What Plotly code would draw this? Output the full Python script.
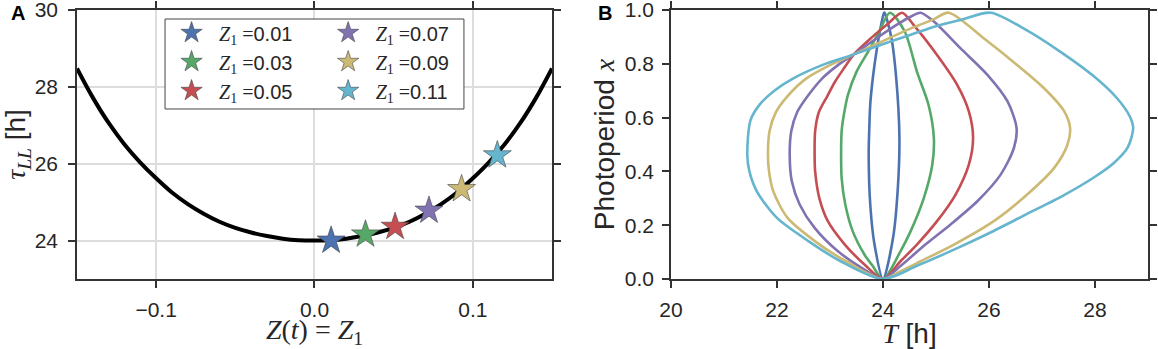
import plotly.graph_objects as go

# ---------------- data ----------------
z1_labels = ["0.01", "0.03", "0.05", "0.07", "0.09", "0.11"]
colors = ["#4C72B0", "#55A868", "#C44E52", "#8172B2", "#CCB974", "#64B5CD"]

# Panel A: tau_LL versus Z
curve_Z = [-0.15, -0.14, -0.13, -0.12, -0.11, -0.10, -0.09, -0.08, -0.07, -0.06, -0.05,
           -0.04, -0.03, -0.02, -0.01, 0.00, 0.01, 0.02, 0.03, 0.04, 0.05, 0.06, 0.07,
           0.08, 0.09, 0.10, 0.11, 0.12, 0.13, 0.14, 0.15]
curve_tau = [28.48, 27.72, 27.06, 26.50, 26.03, 25.62, 25.25, 24.95, 24.70, 24.49, 24.33,
             24.21, 24.12, 24.05, 24.01, 24.00, 24.01, 24.05, 24.12, 24.21, 24.33, 24.49, 24.70,
             24.95, 25.25, 25.62, 26.03, 26.50, 27.06, 27.72, 28.48]
star_Z = [0.0105, 0.0322, 0.0509, 0.0723, 0.0929, 0.1155]
star_tau = [24.00, 24.16, 24.36, 24.78, 25.34, 26.22]

# Panel B: entrainment regions (T [h], photoperiod x)
T_z01 = [24.00, 23.84, 23.76, 23.73, 23.74, 23.76, 23.81, 23.88, 23.95, 24.02,
         24.03, 24.16, 24.25, 24.31, 24.28, 24.19, 24.00]
x_z01 = [0.000, 0.128, 0.276, 0.460, 0.550, 0.650, 0.750, 0.850, 0.930, 0.990,
         0.990, 0.895, 0.746, 0.524, 0.338, 0.153, 0.000]

T_z03 = [24.00, 23.80, 23.65, 23.43, 23.29, 23.22, 23.21, 23.22, 23.27, 23.34, 23.50, 23.72, 23.93, 24.13,
         24.41, 24.64, 24.86, 24.96, 24.93, 24.77, 24.52, 24.33, 24.00]
x_z03 = [0.000, 0.050, 0.091, 0.177, 0.276, 0.375, 0.460, 0.550, 0.620, 0.685, 0.770, 0.845, 0.920, 0.990,
         0.920, 0.771, 0.647, 0.524, 0.425, 0.301, 0.177, 0.103, 0.000]

T_z05 = [24.00, 23.65, 23.28, 22.96, 22.80, 22.72, 22.71, 22.72, 22.79, 22.95, 23.10, 23.27, 23.45, 23.80, 24.10, 24.36,
         24.58, 25.02, 25.40, 25.62, 25.70, 25.62, 25.37, 25.02, 24.64, 24.33, 24.00]
x_z05 = [0.000, 0.054, 0.128, 0.215, 0.300, 0.400, 0.460, 0.550, 0.620, 0.680, 0.735, 0.785, 0.835, 0.900, 0.950, 0.990,
         0.944, 0.833, 0.722, 0.623, 0.524, 0.425, 0.314, 0.215, 0.128, 0.066, 0.000]

T_z07 = [24.00, 23.65, 23.15, 22.71, 22.43, 22.28, 22.24, 22.27, 22.38, 22.58, 22.85, 23.15, 23.45, 23.88, 24.30, 24.52, 24.71,
         24.96, 25.46, 25.97, 26.35, 26.52, 26.47, 26.22, 25.78, 25.27, 24.80, 24.33, 24.00]
x_z07 = [0.000, 0.035, 0.103, 0.190, 0.276, 0.363, 0.460, 0.550, 0.620, 0.680, 0.745, 0.795, 0.835, 0.895, 0.950, 0.975, 0.990,
         0.957, 0.858, 0.759, 0.660, 0.561, 0.487, 0.388, 0.289, 0.202, 0.128, 0.048, 0.000]

T_z09 = [24.00, 23.30, 22.72, 22.20, 21.93, 21.85, 21.83, 21.86, 21.98, 22.20, 22.55, 23.00, 23.45, 23.95, 24.45, 24.95, 25.24,
         25.90, 26.53, 27.04, 27.42, 27.53, 27.48, 27.23, 26.72, 26.09, 25.34, 24.71, 24.33, 24.00]
x_z09 = [0.000, 0.066, 0.140, 0.227, 0.326, 0.400, 0.460, 0.550, 0.620, 0.680, 0.745, 0.795, 0.835, 0.880, 0.925, 0.965, 0.990,
         0.895, 0.796, 0.709, 0.623, 0.561, 0.499, 0.413, 0.314, 0.215, 0.128, 0.066, 0.029, 0.000]

T_z11 = [24.00, 23.20, 22.60, 22.00, 21.62, 21.48, 21.44, 21.50, 21.68, 21.95, 22.30, 22.85, 23.45, 24.10, 24.55, 25.00, 25.50, 26.03,
         26.70, 27.30, 27.95, 28.42, 28.66, 28.72, 28.62, 28.35, 28.00, 27.40, 26.70, 26.00, 25.35, 24.65, 24.00]
x_z11 = [0.000, 0.066, 0.140, 0.227, 0.326, 0.400, 0.460, 0.590, 0.650, 0.700, 0.745, 0.795, 0.835, 0.880, 0.910, 0.940, 0.965, 0.990,
         0.926, 0.851, 0.758, 0.671, 0.603, 0.560, 0.490, 0.430, 0.380, 0.310, 0.240, 0.170, 0.110, 0.050, 0.000]

region_T = [T_z01, T_z03, T_z05, T_z07, T_z09, T_z11]
region_x = [x_z01, x_z03, x_z05, x_z07, x_z09, x_z11]

# ---------------- figure ----------------
SANS = "Liberation Sans, Arial, sans-serif"
SERIF = "Liberation Serif, DejaVu Serif, serif"
DARK = "#262626"
AX = "#333333"

fig = go.Figure()

fig.add_trace(go.Scatter(x=curve_Z, y=curve_tau, mode="lines", line=dict(color="black", width=4, shape="spline"),
                         showlegend=False, xaxis="x", yaxis="y", hoverinfo="skip"))

for i, lab in enumerate(z1_labels):
    name = f"<span style='font-family:{SERIF}'><i>Z</i><sub>1</sub> =</span>{lab}"
    fig.add_trace(go.Scatter(
        x=[star_Z[i]], y=[star_tau[i]], mode="markers", name=name,
        marker=dict(symbol="star", size=21, color=colors[i], line=dict(color="#444444", width=0.6)),
        xaxis="x", yaxis="y", legend="legend" if i < 3 else "legend2"))

for i in range(6):
    fig.add_trace(go.Scatter(x=region_T[i], y=region_x[i], mode="lines",
                             line=dict(color=colors[i], width=2.6, shape="spline", smoothing=0.8),
                             showlegend=False, xaxis="x2", yaxis="y2", hoverinfo="skip"))

axis_common = dict(showline=True, linecolor=AX, linewidth=1.5, mirror="ticks", ticks="outside",
                   ticklen=7, tickwidth=1.5, tickcolor=AX, zeroline=False, automargin=False,
                   ticklabeloverflow="allow",
                   tickfont=dict(family=SANS, size=21, color=DARK))

TITLE = 28
fig.update_layout(
    width=1158, height=349, autosize=False,
    margin=dict(l=77, r=10, t=10, b=70, autoexpand=False),
    paper_bgcolor="white", plot_bgcolor="white",
    xaxis=dict(domain=[0, 0.4435], range=[-0.15, 0.15], tickvals=[-0.1, 0.0, 0.1],
               ticktext=["\u22120.1", "0.0", "0.1"], showgrid=True, gridcolor="#dddddd", gridwidth=1.5,
               title=dict(text="<i>Z</i>(<i>t</i>) = <i>Z</i><sub>1</sub>", font=dict(family=SERIF, size=TITLE, color=DARK), standoff=2),
               anchor="y", ticklabelstandoff=4, **axis_common),
    yaxis=dict(domain=[0, 1], range=[23, 30], tickvals=[24, 26, 28, 30], showgrid=True, gridcolor="#dddddd", gridwidth=1.5,
               title=dict(text=f"<span style='font-family:{SERIF}'><i>τ</i><sub><i>LL</i></sub></span> [h]",
                          font=dict(family=SANS, size=TITLE, color=DARK), standoff=2),
               anchor="x", ticklabelstandoff=6, **axis_common),
    xaxis2=dict(domain=[0.5546, 1], range=[20, 29], tickvals=[20, 22, 24, 26, 28], showgrid=False,
                title=dict(text=f"<span style='font-family:{SERIF}'><i>T</i></span> [h]", font=dict(family=SANS, size=TITLE, color=DARK), standoff=2),
                anchor="y2", ticklabelstandoff=4, **axis_common),
    yaxis2=dict(domain=[0, 1], range=[0, 1], tickvals=[0, 0.2, 0.4, 0.6, 0.8, 1.0], tickformat=".1f", showgrid=False,
                title=dict(text=f"Photoperiod <span style='font-family:{SERIF}'><i>x</i></span>", font=dict(family=SANS, size=TITLE, color=DARK), standoff=2),
                anchor="x2", ticklabelstandoff=4, **axis_common),
    legend=dict(x=0.0813, y=0.988, xanchor="left", yanchor="top", bgcolor="rgba(0,0,0,0)",
                font=dict(family=SANS, size=20, color=DARK), itemsizing="trace", itemwidth=45, tracegroupgap=0),
    legend2=dict(x=0.2275, y=0.988, xanchor="left", yanchor="top", bgcolor="rgba(0,0,0,0)",
                 font=dict(family=SANS, size=20, color=DARK), itemsizing="trace", itemwidth=45, tracegroupgap=0),
    shapes=[dict(type="rect", xref="paper", yref="paper", x0=0.0822, x1=0.3613, y0=0.632, y1=0.9665,
                 line=dict(color="#444444", width=1), fillcolor="white", layer="above")],
    annotations=[
        dict(text="<b>A</b>", xref="paper", yref="paper", x=-0.055, y=0.99, xanchor="center", yanchor="middle",
             showarrow=False, font=dict(family=SANS, size=20, color="black")),
        dict(text="<b>B</b>", xref="paper", yref="paper", x=0.493, y=0.99, xanchor="center", yanchor="middle",
             showarrow=False, font=dict(family=SANS, size=20, color="black")),
    ],
)

fig.write_html("out.html", config={"displayModeBar": False},
               post_script="document.body.style.margin='0';")
